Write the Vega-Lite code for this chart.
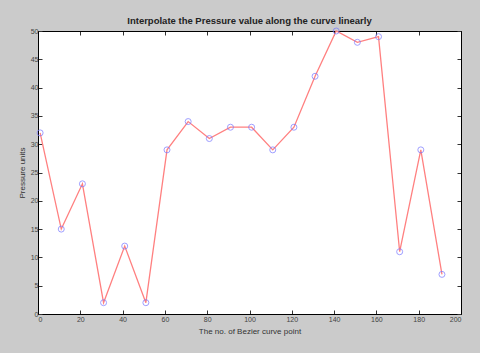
{
  "$schema": "https://vega.github.io/schema/vega-lite/v6.json",
  "autosize": "none",
  "width": 423,
  "height": 283,
  "padding": {"left": 38, "top": 31, "right": 19, "bottom": 39},
  "background": "#cbcbcb",
  "view": {"fill": "white", "stroke": "black", "strokeWidth": 1},
  "title": {"text": "Interpolate the Pressure value along the curve linearly", "fontSize": 9.5, "font": "Liberation Sans", "fontWeight": "bold", "color": "#222", "offset": 1},
  "data": {"values": [
    {"point": 1, "pressure": 32},
    {"point": 11, "pressure": 15},
    {"point": 21, "pressure": 23},
    {"point": 31, "pressure": 2},
    {"point": 41, "pressure": 12},
    {"point": 51, "pressure": 2},
    {"point": 61, "pressure": 29},
    {"point": 71, "pressure": 34},
    {"point": 81, "pressure": 31},
    {"point": 91, "pressure": 33},
    {"point": 101, "pressure": 33},
    {"point": 111, "pressure": 29},
    {"point": 121, "pressure": 33},
    {"point": 131, "pressure": 42},
    {"point": 141, "pressure": 50},
    {"point": 151, "pressure": 48},
    {"point": 161, "pressure": 49},
    {"point": 171, "pressure": 11},
    {"point": 181, "pressure": 29},
    {"point": 191, "pressure": 7}
  ]},
  "config": {
    "axis": {"labelFont": "Liberation Sans", "titleFont": "Liberation Sans", "labelFontSize": 7, "titleFontSize": 8, "titleFontWeight": "normal", "labelColor": "#444", "titleColor": "#333", "grid": false, "domainColor": "black", "tickColor": "#333", "tickSize": -4, "labelPadding": 4}
  },
  "resolve": {"axis": {"x": "independent", "y": "independent"}},
  "layer": [
    {
      "mark": {"type": "line", "color": "#ff8080", "strokeWidth": 1.3},
      "encoding": {
        "x": {"field": "point", "type": "quantitative", "scale": {"domain": [0, 200], "nice": false}, "axis": {"values": [0,20,40,60,80,100,120,140,160,180,200], "title": "The no. of Bezier curve point", "titlePadding": 5, "labelPadding": 5}},
        "y": {"field": "pressure", "type": "quantitative", "scale": {"domain": [0, 50], "nice": false}, "axis": {"values": [0,5,10,15,20,25,30,35,40,45,50], "title": "Pressure units", "titlePadding": 4}}
      }
    },
    {
      "mark": {"type": "point", "shape": "circle", "filled": false, "color": "#7777ff", "size": 36, "strokeWidth": 1},
      "encoding": {
        "x": {"field": "point", "type": "quantitative", "axis": {"orient": "top", "values": [0,20,40,60,80,100,120,140,160,180,200], "labels": false, "title": null}},
        "y": {"field": "pressure", "type": "quantitative", "axis": {"orient": "right", "values": [0,5,10,15,20,25,30,35,40,45,50], "labels": false, "title": null}}
      }
    }
  ]
}
